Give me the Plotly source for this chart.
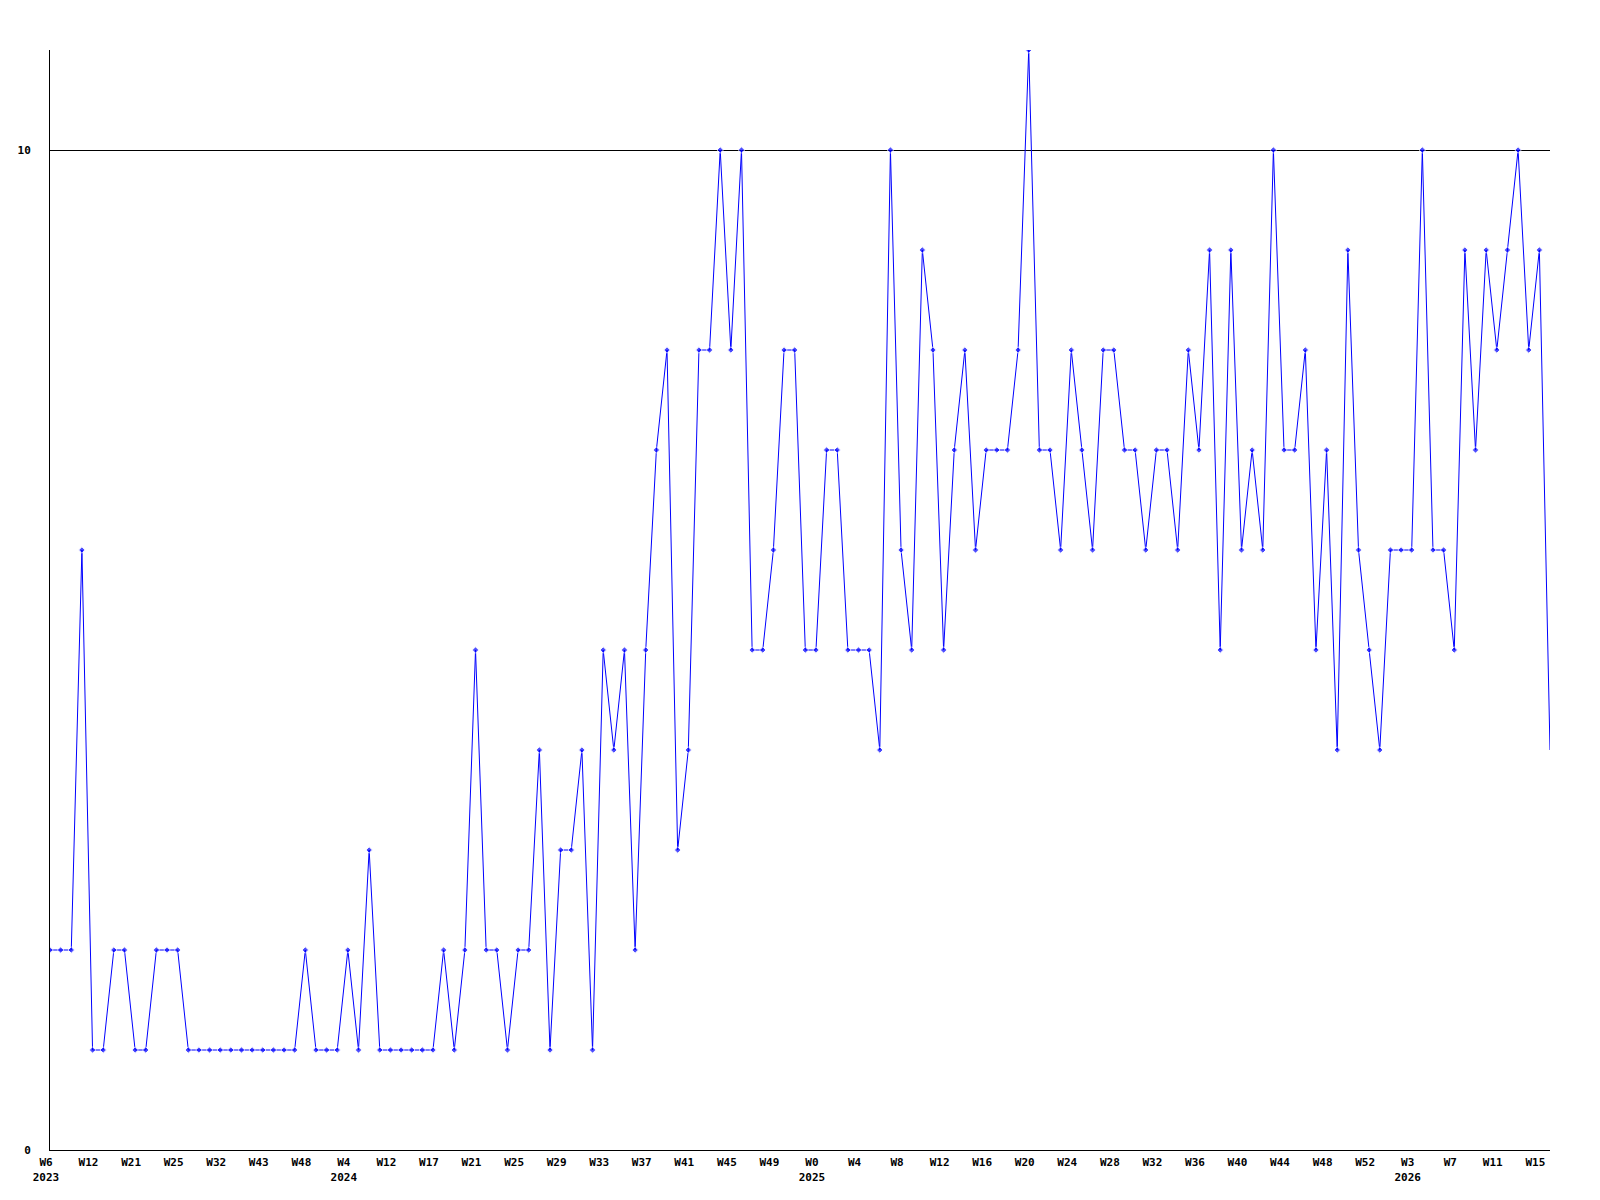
import plotly.graph_objects as go

# Weekly counts (one value per week shown on the chart)
values = [
    2, 2, 2, 6, 1, 1, 2, 2, 1, 1,
    2, 2, 2, 1, 1, 1, 1, 1, 1, 1,
    1, 1, 1, 1, 2, 1, 1, 1, 2, 1,
    3, 1, 1, 1, 1, 1, 1, 2, 1, 2,
    5, 2, 2, 1, 2, 2, 4, 1, 3, 3,
    4, 1, 5, 4, 5, 2, 5, 7, 8, 3,
    4, 8, 8, 10, 8, 10, 5, 5, 6, 8,
    8, 5, 5, 7, 7, 5, 5, 5, 4, 10,
    6, 5, 9, 8, 5, 7, 8, 6, 7, 7,
    7, 8, 11, 7, 7, 6, 8, 7, 6, 8,
    8, 7, 7, 6, 7, 7, 6, 8, 7, 9,
    5, 9, 6, 7, 6, 10, 7, 7, 8, 5,
    7, 4, 9, 6, 5, 4, 6, 6, 6, 10,
    6, 6, 5, 9, 7, 9, 8, 9, 10, 8,
    9, 4,
]

# Tick labels every 4th point
week_labels = [
    "W6", "W12", "W21", "W25", "W32", "W43", "W48",
    "W4", "W12", "W17", "W21", "W25", "W29", "W33", "W37", "W41", "W45", "W49",
    "W0", "W4", "W8", "W12", "W16", "W20", "W24", "W28", "W32", "W36", "W40", "W44", "W48", "W52",
    "W3", "W7", "W11", "W15",
]
year_labels = {0: "2023", 7: "2024", 18: "2025", 32: "2026"}
tick_step = 4

y_tickvals = [0, 10]
y_ticktext = ["0", "10"]

x = list(range(len(values)))
tickvals = [i * tick_step for i in range(len(week_labels))]
ticktext = [
    (w + "<br>" + year_labels[i]) if i in year_labels else w
    for i, w in enumerate(week_labels)
]
# the final (partial) week is drawn without a marker
marker_sizes = [5] * (len(values) - 1) + [0]

font = dict(family="DejaVu Sans Mono", size=11, color="black", weight="bold")

fig = go.Figure(
    go.Scatter(
        x=x,
        y=values,
        mode="lines+markers",
        line=dict(color="#0000FF", width=1),
        marker=dict(symbol="diamond", size=marker_sizes, color="#0000FF"),
        hoverinfo="x+y",
    )
)

fig.update_layout(
    width=1600,
    height=1200,
    margin=dict(l=42, r=58, t=42, b=58),
    paper_bgcolor="white",
    plot_bgcolor="white",
    showlegend=False,
    font=font,
)

fig.update_xaxes(
    range=[0, len(values) - 1],
    tickmode="array",
    tickvals=tickvals,
    ticktext=ticktext,
    showgrid=False,
    zeroline=False,
    showline=True,
    linecolor="black",
    linewidth=1,
    ticks="",
    ticklabelshift=-4,
    ticklabelstandoff=2,
    tickfont=font,
    automargin=False,
)

fig.update_yaxes(
    range=[0, 11],
    tickmode="array",
    tickvals=y_tickvals,
    ticktext=y_ticktext,
    showgrid=True,
    gridcolor="black",
    gridwidth=1,
    zeroline=False,
    showline=True,
    linecolor="black",
    linewidth=1,
    ticks="",
    ticklabelstandoff=16,
    tickfont=font,
    automargin=False,
)

fig.write_html("out.html")
